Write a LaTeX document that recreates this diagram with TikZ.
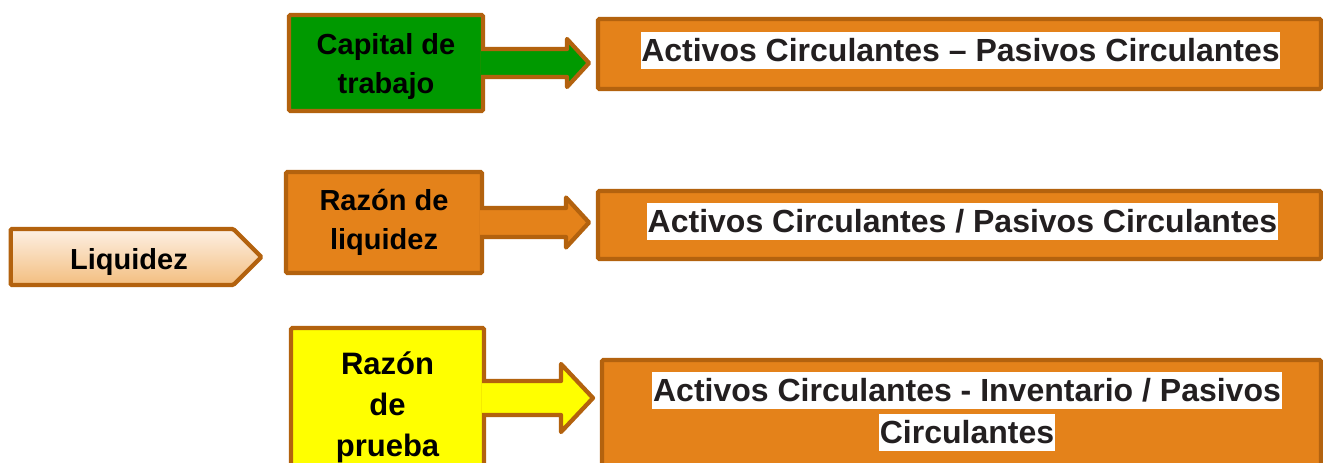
\documentclass[tikz,border=0pt]{standalone}
\usepackage{fontspec}
\setmainfont{Liberation Sans}
\usepackage{xcolor}
\usetikzlibrary{calc,shapes.symbols}

\definecolor{borde}{HTML}{B3620E}
\definecolor{naranja}{HTML}{E4821A}
\definecolor{verde}{HTML}{009900}
\definecolor{amarillo}{HTML}{FFFF00}
\definecolor{liqarriba}{HTML}{FDF0E4}
\definecolor{liqabajo}{HTML}{F3BE7F}
\definecolor{textogris}{HTML}{231F20}

\setlength{\fboxsep}{0.5pt}
\newcommand{\hl}[1]{\colorbox{white}{\rule[-0.21em]{0pt}{1.13em}#1}}

% block arrow from box #1 to box #2, shaft half #3, head half #4, colour #5
\newcommand{\flecha}[5]{%
  \coordinate (punta) at ($(#1.east -| #2.west)+(-9,0)$);
  \draw[flechaline, fill=#5] ($(#1.east)+(-2,-#3)$) -- ($(punta)+(-#4+2,-#3)$)
    -- ($(punta)+(-#4+2,-#4)$) -- (punta) -- ($(punta)+(-#4+2,#4)$)
    -- ($(punta)+(-#4+2,#3)$) -- ($(#1.east)+(-2,#3)$);}

\begin{document}
\begin{tikzpicture}[x=0.75pt, y=-0.75pt,
    caja/.style={draw=borde, line width=3.2pt, rectangle, rounded corners=1pt,
      outer sep=0pt, inner sep=0pt, align=center,
      font=\bfseries\fontsize{21.75}{29.25}\selectfont},
    formula/.style={draw=borde, line width=3.2pt, rectangle, rounded corners=1pt,
      outer sep=0pt, inner sep=0pt, fill=naranja},
    rtexto/.style={inner sep=0pt, align=center, text=textogris,
      font=\bfseries\fontsize{24}{31.5}\selectfont},
    flechaline/.style={draw=borde, line width=3.2pt, line join=round}]
    \useasboundingbox (0,0) rectangle (1323,463);
    \clip (0,0) rectangle (1323,463);

    % Liquidez
    \node[caja, signal, signal to=east, signal pointer angle=90,
      top color=liqarriba, bottom color=liqabajo,
      minimum width=188pt, minimum height=42pt] (liq) at (122,257) {};
    \node[anchor=base, inner sep=0pt, font=\bfseries\fontsize{21.75}{29.25}\selectfont]
      (liqtexto) at ($(liq.center)+(7,12)$) {Liquidez};

    % Left boxes
    \node[caja, fill=verde, minimum width=145.5pt, minimum height=72pt] (cap) at (386,63) {\rule{0pt}{20.5pt}Capital de\\trabajo};
    \node[caja, fill=naranja, minimum width=147pt, minimum height=75.75pt] (razliq) at (384,222.5) {Raz\'on de\\liquidez};
    \node[caja, fill=amarillo, minimum width=144.75pt, minimum height=105pt,
      font=\bfseries\fontsize{23.25}{31}\selectfont] (razpru) at (387.5,398) {\rule{0pt}{31pt}Raz\'on\\de\\prueba};

    % Formula boxes
    \node[formula, minimum width=542.25pt, minimum height=52.5pt] (f1) at (959.5,54) {};
    \node[formula, minimum width=542.25pt, minimum height=51pt] (f2) at (959.5,225) {};
    \node[formula, minimum width=539.25pt, minimum height=97.5pt] (f3) at (961.5,425) {};

    \node[rtexto] (t1) at (960.5,50.5) {\hl{Activos Circulantes -- Pasivos Circulantes}};
    \node[rtexto] (t2) at (962.5,221.5) {\hl{Activos Circulantes / Pasivos Circulantes}};
    \node[rtexto] (t3) at (967,411.5) {\hl{Activos Circulantes - Inventario / Pasivos}\\\hl{Circulantes}};

    % Arrows
    \flecha{cap}{f1}{14}{24}{verde}
    \flecha{razliq}{f2}{14.5}{25}{naranja}
    \flecha{razpru}{f3}{17}{34}{amarillo}
\end{tikzpicture}
\end{document}
